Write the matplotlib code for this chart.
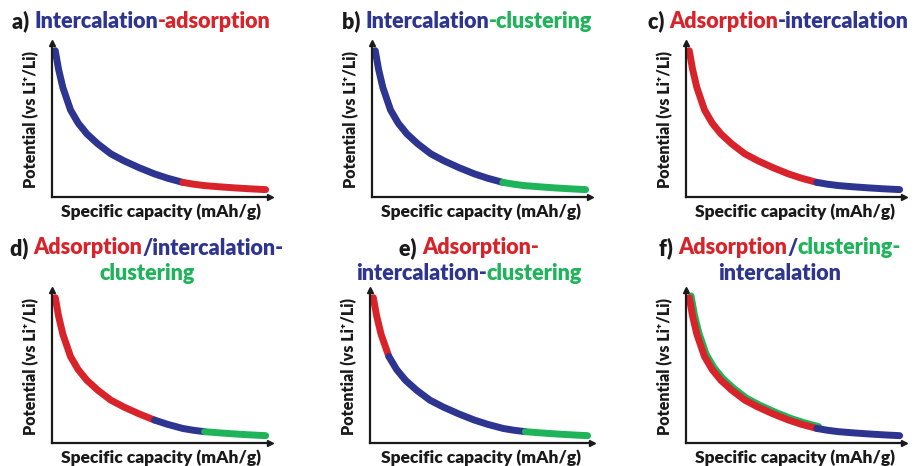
import numpy as np
import matplotlib.pyplot as plt
from matplotlib.transforms import offset_copy

# normalised discharge curve (capacity, potential)
capacity = [0.015, 0.03, 0.05, 0.085, 0.12, 0.16, 0.21, 0.27, 0.33, 0.40,
            0.47, 0.53, 0.60, 0.65, 0.70, 0.77, 0.84, 0.91, 0.98]
potential = [0.95, 0.83, 0.71, 0.565, 0.48, 0.41, 0.345, 0.28, 0.235, 0.19,
             0.15, 0.122, 0.095, 0.083, 0.074, 0.066, 0.059, 0.053, 0.048]

BLUE = '#2d3590'
RED = '#d8232a'
GREEN = '#1fb35a'
BLACK = '#1a1a1a'

# title pieces per panel (one list per line)
titles = {
    'a': [[('a) ', BLACK), ('Intercalation', BLUE), ('-adsorption', RED)]],
    'b': [[('b) ', BLACK), ('Intercalation', BLUE), ('-clustering', GREEN)]],
    'c': [[('c) ', BLACK), ('Adsorption', RED), ('-intercalation', BLUE)]],
    'd': [[('d) ', BLACK), ('Adsorption', RED), ('/intercalation-', BLUE)],
          [('clustering', GREEN)]],
    'e': [[('e) ', BLACK), ('Adsorption-', RED)],
          [('intercalation-', BLUE), ('clustering', GREEN)]],
    'f': [[('f) ', BLACK), ('Adsorption', RED), ('/', BLUE), ('clustering-', GREEN)],
          [('intercalation', BLUE)]],
}

# segments: (from capacity, to capacity, colour)
segments = {
    'a': [(0.015, 0.60, BLUE), (0.60, 0.98, RED)],
    'b': [(0.015, 0.60, BLUE), (0.60, 0.98, GREEN)],
    'c': [(0.015, 0.60, RED), (0.60, 0.98, BLUE)],
    'd': [(0.015, 0.47, RED), (0.47, 0.70, BLUE), (0.70, 0.98, GREEN)],
    'e': [(0.015, 0.085, RED), (0.085, 0.70, BLUE), (0.70, 0.98, GREEN)],
    'f': [(0.015, 0.60, RED), (0.60, 0.98, BLUE)],
}
# f: clustering drawn just behind adsorption
shadow = {'f': (0.015, 0.60, GREEN)}

W, H = 915, 466
fig = plt.figure(figsize=(W / 100, H / 100), dpi=100)
plt.rcParams['font.family'] = ['Lato', 'DejaVu Sans']

# axes boxes in pixels: left, axis bottom, width, height
boxes = {
    'a': (52, 197, 218, 154), 'b': (372, 197, 218, 154), 'c': (686, 197, 218, 154),
    'd': (52, 443, 218, 153), 'e': (370, 443, 222, 153), 'f': (686, 443, 218, 153),
}
# title anchor: (x px, y px of line centres, align)
title_pos = {
    'a': (12, [21], 'left'), 'b': (342, [21], 'left'), 'c': (648, [21], 'left'),
    'd': (147, [248, 273], 'center'), 'e': (469, [248, 273], 'center'),
    'f': (780, [248, 273], 'center'),
}


def color_line(x, y, pieces, ha):
    texts = [fig.text(0, 1 - y / H, s, color=c, fontsize=15.5, fontweight='heavy',
                      va='center') for s, c in pieces]
    r = fig.canvas.get_renderer()
    widths = [t.get_window_extent(r).width for t in texts]
    start = x if ha == 'left' else x - sum(widths) / 2
    for t, w in zip(texts, widths):
        t.set_x(start / W)
        start += w


def idx(v):
    return capacity.index(v)


for key in 'abcdef':
    l, b, w, h = boxes[key]
    ax = fig.add_axes([l / W, 1 - b / H, w / W, h / H])
    ax.set_xlim(0, 1)
    ax.set_ylim(0, 1)
    for s in ['top', 'right']:
        ax.spines[s].set_visible(False)
    for s in ['left', 'bottom']:
        ax.spines[s].set_linewidth(1.6)
        ax.spines[s].set_color(BLACK)
    ax.set_xticks([])
    ax.set_yticks([])
    ax.plot(1, 0, '>', color=BLACK, ms=5, transform=ax.transAxes, clip_on=False)
    ax.plot(0, 1, '^', color=BLACK, ms=5, transform=ax.transAxes, clip_on=False)

    if key in shadow:
        x0, x1, c = shadow[key]
        tr = offset_copy(ax.transData, fig=fig, x=1.5, y=1.5, units='points')
        ax.plot(capacity[idx(x0):idx(x1) + 1], potential[idx(x0):idx(x1) + 1],
                color=c, lw=4.5, solid_capstyle='round', transform=tr)
    for x0, x1, c in segments[key]:
        ax.plot(capacity[idx(x0):idx(x1) + 1], potential[idx(x0):idx(x1) + 1],
                color=c, lw=5, solid_capstyle='round')

    ax.set_ylabel('Potential (vs Li\u207a/Li)', fontsize=11.5, fontweight='heavy',
                  color=BLACK)
    ax.yaxis.set_label_coords(-0.06, 0.5)
    ax.set_xlabel('Specific capacity (mAh/g)', fontsize=12.5, fontweight='heavy',
                  color=BLACK, va='center')
    ax.xaxis.set_label_coords(0.5, -0.095)

    tx, tys, ha = title_pos[key]
    for line, ty in zip(titles[key], tys):
        color_line(tx, ty, line, ha)

fig.savefig('out.png', dpi=100)
